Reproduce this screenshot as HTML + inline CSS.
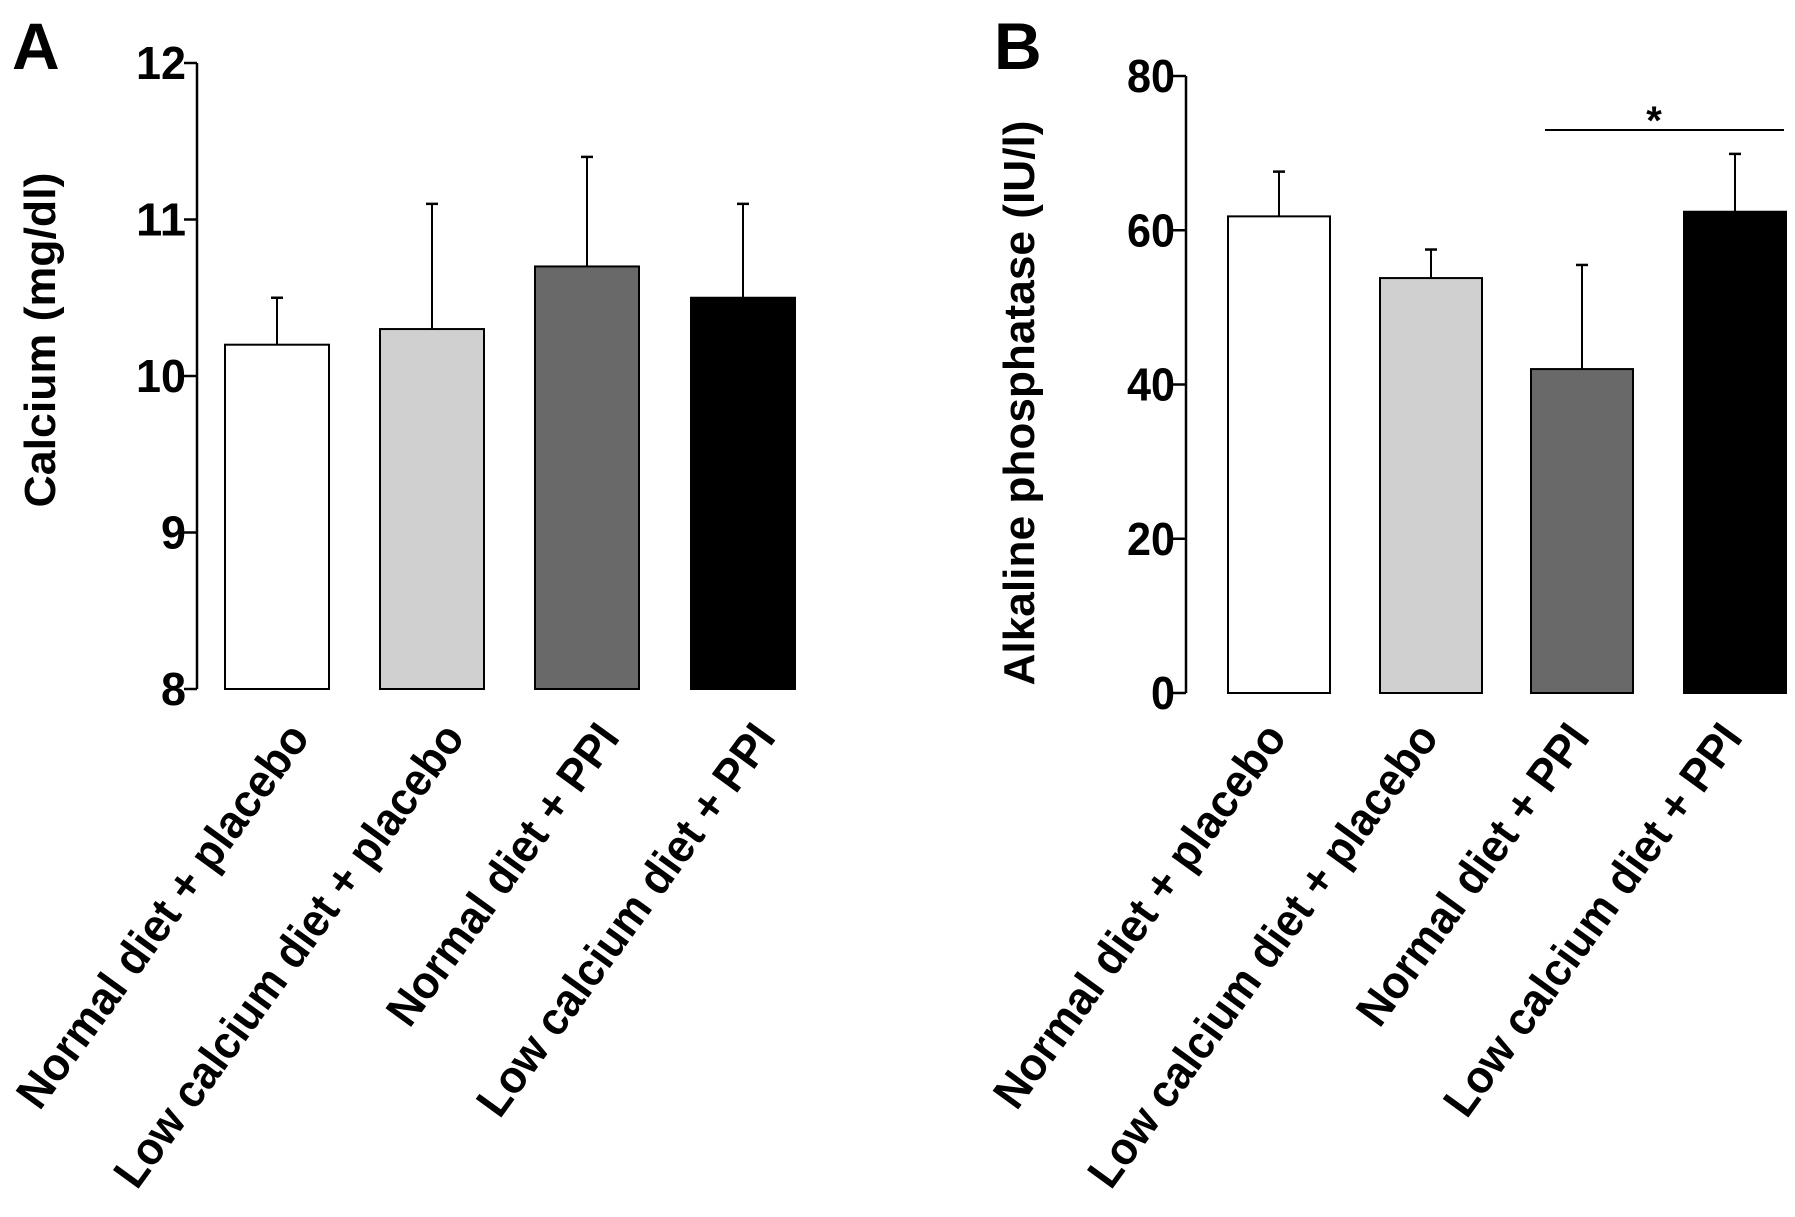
<!DOCTYPE html>
<html><head><meta charset="utf-8"><style>
html,body{margin:0;padding:0;background:#fff;}
svg{display:block;font-family:"Liberation Sans",Arial,sans-serif;font-weight:bold;}
</style></head><body>
<svg id="fig" width="1795" height="1217" viewBox="0 0 1795 1217" xmlns="http://www.w3.org/2000/svg"></svg>
<script>
const categories = ["Normal diet + placebo","Low calcium diet + placebo","Normal diet + PPI","Low calcium diet + PPI"];
const calciumValues = [10.2, 10.3, 10.7, 10.5];
const calciumErrors = [0.3, 0.8, 0.7, 0.6];
const calciumTicks = [8, 9, 10, 11, 12];
const alpValues = [61.8, 53.8, 42.0, 62.4];
const alpErrors = [5.8, 3.7, 13.5, 7.5];
const alpTicks = [0, 20, 40, 60, 80];
const fills = ["#ffffff","#d0d0d0","#696969","#000000"];

const NS = "http://www.w3.org/2000/svg";
const svg = document.getElementById("fig");
function mk(tag, attrs, parent){
  const e = document.createElementNS(NS, tag);
  for (const k in attrs) e.setAttribute(k, attrs[k]);
  (parent||svg).appendChild(e);
  return e;
}
const labelLens = [462, 560, 360, 472];

function panel(cfg){
  const g = mk("g", {});
  
  
  const yScale = v => cfg.yBottom - (v - cfg.min) / (cfg.max - cfg.min) * (cfg.yBottom - cfg.yTop);
  const ax = mk("line", {x1:cfg.axisX, y1:yScale(cfg.max), x2:cfg.axisX, y2:yScale(cfg.min), stroke:"#000","stroke-width":2.5}, g);
  
  
  cfg.ticks.forEach(t => {
    const y = yScale(t);
    const tl = mk("line", {x1:cfg.axisX-13, y1:y, x2:cfg.axisX, y2:y, stroke:"#000","stroke-width":2.5}, g);
    
    
    const tx = mk("text", {x:cfg.axisX-11, y:y+16, "text-anchor":"end","font-size":46, textLength:cfg.tickW*String(t).length, lengthAdjust:"spacingAndGlyphs"}, g);
    tx.textContent = t;
    
    
  });
  const tt = mk("text", {x:0, y:0, "text-anchor":"middle","font-size":44, textLength:cfg.titleLen, lengthAdjust:"spacingAndGlyphs", transform:`translate(${cfg.titleX},${cfg.titleY}) rotate(-90)`}, g);
  tt.textContent = cfg.title;
  
  
  cfg.values.forEach((v, i) => {
    const x0 = cfg.barX[i], w = cfg.barW;
    const cx = x0 + w/2;
    const eTop = yScale(v + cfg.errors[i]);
    const el = mk("line", {x1:cx, y1:yScale(v), x2:cx, y2:eTop, stroke:"#000","stroke-width":2}, g);
    
    
    const ec = mk("line", {x1:cx-6, y1:eTop, x2:cx+6, y2:eTop, stroke:"#000","stroke-width":2.5}, g);
    
    
    const r = mk("rect", {x:x0, y:yScale(v), width:w, height:yScale(cfg.min)-yScale(v), fill:fills[i], stroke:"#000","stroke-width":2}, g);
    
    
    const lx = cx + cfg.labelDx, ly = 738;
    const lb = mk("text", {x:0, y:0, "text-anchor":"end","font-size":46, textLength:labelLens[i], lengthAdjust:"spacingAndGlyphs", transform:`translate(${lx},${ly}) rotate(-54)`}, g);
    lb.textContent = categories[i];
    
    
  });
  const pl = mk("text", {x:cfg.letterX, y:69, "font-size":66}, g);
  pl.textContent = cfg.letter;
  
  
  return yScale;
}

panel({name:"panel-a-calcium", letter:"A", letterX:12, min:8, max:12, yTop:63, yBottom:689, axisX:197, ticks:calciumTicks, tickW:25,
  title:"Calcium (mg/dl)", titleX:55, titleY:340, titleLen:335,
  values:calciumValues, errors:calciumErrors, barX:[225,380,535,691], barW:104, labelDx:34});
panel({name:"panel-b-alkaline-phosphatase", letter:"B", letterX:994, min:0, max:80, yTop:76, yBottom:693, axisX:1186, ticks:alpTicks, tickW:24,
  title:"Alkaline phosphatase (IU/l)", titleX:1034, titleY:403, titleLen:565,
  values:alpValues, errors:alpErrors, barX:[1228,1380,1531,1684], barW:102, labelDx:9});

const sig = mk("line", {x1:1545, y1:130, x2:1784, y2:130, stroke:"#000","stroke-width":2});


const star = mk("text", {x:1654, y:134, "text-anchor":"middle","font-size":40});
star.textContent = "*";


</script>
</body></html>
